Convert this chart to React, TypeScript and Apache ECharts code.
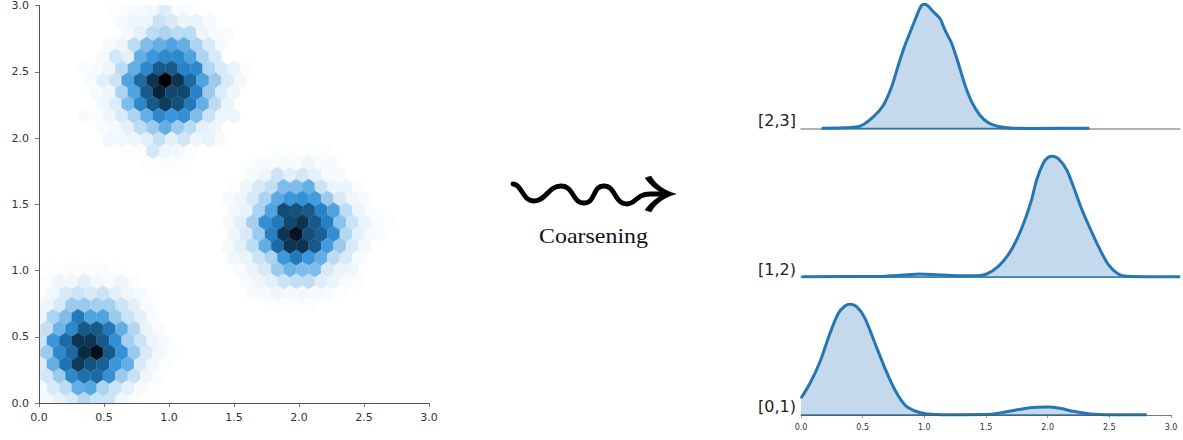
import React, { useEffect, useRef } from "react";
import * as echarts from "echarts";

// Hexbin lattice (data units)
const HEX_DX = 0.0959;
const HEX_DY = 0.0893;
const HEX_X0 = 0.0602;
const HEX_Y0 = 0.024;

// [row, first column, levels 0..10 left to right]
const clusterUpper: [number, number, number[]][] = [
  [33, 5, [0.2, 0.4, 0.5, 0.8, 1.8, 0.5, 0.3]],
  [32, 6, [0.6, 1, 1, 2.5, 2, 1.2, 1.2, 0.6]],
  [31, 6, [0.7, 1.5, 3, 3.5, 3, 3, 1, 0.5, 0.4]],
  [30, 5, [0.5, 1, 3, 4.5, 5, 5.5, 5, 3.5, 2, 0.6]],
  [29, 4, [0.6, 2.2, 1.5, 5, 6, 6.5, 6.5, 5.5, 3.5, 2]],
  [28, 3, [0.3, 0.4, 1, 3, 5, 6.5, 8, 8, 6.7, 6.5, 3.3, 2, 1.2, 0.3]],
  [27, 3, [0.4, 1.5, 2.5, 5.5, 7.5, 9, 10, 9, 7.5, 5.5, 4, 2, 0.8]],
  [26, 4, [0.6, 1, 3.5, 5.5, 8, 9.3, 8.5, 8.5, 6.7, 4, 1.8, 0.9]],
  [25, 4, [0.8, 1.8, 4.5, 6.5, 8, 8.8, 8.3, 7, 5, 3, 1.2]],
  [24, 3, [0.4, 0.3, 1, 2, 3.5, 5, 6.5, 6, 6.3, 4.5, 2.5, 1, 0.9]],
  [23, 4, [0.4, 0.7, 1.5, 3, 4, 5, 4, 3, 1.5, 1]],
  [22, 5, [0.8, 0.8, 1, 1.5, 2.7, 1.5, 2.3, 1, 1.3, 0.4]],
  [21, 6, [0.2, 0.3, 2.2, 1, 0.8, 0.3]],
  [20, 8, [0.2, 0.3, 0.3, 0.2]],
];
const clusterMiddle: [number, number, number[]][] = [
  [21, 18, [0.3, 0.3, 0.2, 0.2, 0.3]],
  [20, 17, [0.4, 0.4, 0.6, 0.5, 1, 0.4, 0.4]],
  [19, 16, [0.6, 1, 2.5, 1.5, 2.2, 1.5, 0.6, 0.5]],
  [18, 15, [0.2, 1, 2, 2.7, 4.5, 4.5, 5, 2.5, 1.2, 1.2, 0.3]],
  [17, 14, [0.4, 1, 2, 3.5, 5.2, 6, 6.2, 5.8, 4, 2, 1, 0.4]],
  [16, 15, [0.8, 1.3, 3.5, 5.5, 8.4, 8.2, 8, 6.7, 5.5, 3, 1.2, 0.3]],
  [15, 14, [0.4, 1.5, 3.7, 6.3, 7, 8.5, 9, 8, 6.8, 4.3, 2.5, 1.2, 0.4, 0.3]],
  [14, 15, [1, 2, 4, 6.8, 9, 9.6, 8.3, 7.8, 6.3, 3.2, 1.5, 0.5, 0.3]],
  [13, 14, [0.6, 1.5, 3, 5, 7.5, 9, 9, 8, 5.8, 4, 2, 0.8]],
  [12, 15, [0.8, 1.2, 2.5, 3.5, 6, 7, 6, 5, 3, 2, 0.6]],
  [11, 15, [0.5, 1.2, 2, 4, 4.8, 4.5, 4.5, 2, 1.2, 1]],
  [10, 16, [0.4, 1, 1.5, 2.5, 2.8, 3, 1.7, 1.2, 0.4, 0.3]],
  [9, 16, [0.4, 0.6, 1, 0.7, 0.8, 0.6, 0.5, 0.2]],
  [8, 18, [0.2, 0.3, 0.3, 0.2]],
];
const clusterLower: [number, number, number[]][] = [
  [11, 0, [0.2, 0.3, 0.3, 0.3, 0.4, 0.2]],
  [10, 0, [0.3, 1, 0.8, 1.5, 0.8, 0.4, 1, 0.3]],
  [9, -1, [0.3, 0.8, 2, 2.5, 2, 2.5, 1.5, 1, 0.6, 0.2]],
  [8, -1, [0.4, 1, 2, 4, 4, 3.7, 3.7, 2.5, 1.5, 0.5]],
  [7, -1, [1, 3.5, 4.5, 7, 5.5, 5.5, 4, 2.5, 1.5, 0.5]],
  [6, -1, [1, 2.8, 4.8, 6.5, 8, 8, 7, 5, 3.3, 1.2, 0.4]],
  [5, -1, [2.5, 6, 7.5, 9, 9, 8, 6.3, 3.7, 2.5, 1, 0.4]],
  [4, -1, [2, 4, 6.5, 7.5, 9.2, 9.7, 8, 6.2, 4, 2, 0.8, 0.3]],
  [3, -1, [1.8, 5, 7.2, 8.8, 8.2, 7.8, 6, 5, 2, 0.8, 0.2]],
  [2, -1, [1, 2.2, 4, 6.5, 7.3, 7.5, 6.2, 4, 2.6, 1, 0.3]],
  [1, -1, [0.6, 2, 3, 5, 5.3, 3.5, 2.5, 1.5, 0.5, 0.2]],
  [0, -1, [0.2, 0.7, 1.3, 2, 3.2, 2.5, 2.5, 0.8, 0.3]],
];

const levelColors = [
  "#ffffff", "#eef6fc", "#d8eaf8", "#bcdcf3", "#9bcaed", "#64aee4",
  "#3a97dc", "#2279bb", "#175a8a", "#0d3552", "#000000",
];

// KDE curves: [x, density]
const kde23: [number, number][] = [
  [0.168, 0.003], [0.343, 0.007], [0.478, 0.023], [0.586, 0.117], [0.668, 0.233], [0.735, 0.417],
  [0.789, 0.633], [0.843, 0.833], [0.897, 1.0], [0.951, 1.167], [0.978, 1.233], [1.005, 1.243],
  [1.032, 1.223], [1.073, 1.167], [1.127, 1.1], [1.168, 0.983], [1.222, 0.85], [1.276, 0.65],
  [1.33, 0.433], [1.384, 0.267], [1.451, 0.133], [1.519, 0.057], [1.6, 0.02], [1.72, 0.003],
  [1.884, 0.001], [2.338, 0.002],
];
const kde12: [number, number][] = [
  [0.005, 0.003], [0.668, 0.007], [0.83, 0.02], [0.965, 0.03], [1.1, 0.023], [1.262, 0.013],
  [1.424, 0.013], [1.505, 0.03], [1.6, 0.107], [1.681, 0.223], [1.749, 0.373], [1.816, 0.573],
  [1.87, 0.773], [1.911, 0.973], [1.965, 1.14], [2.005, 1.197], [2.038, 1.207], [2.086, 1.183],
  [2.154, 1.073], [2.208, 0.907], [2.262, 0.723], [2.33, 0.523], [2.411, 0.307], [2.492, 0.123],
  [2.573, 0.03], [2.641, 0.007], [2.83, 0.003], [3.073, 0.002],
];
const kde01: [number, number][] = [
  [0, 0.167], [0.073, 0.317], [0.154, 0.533], [0.235, 0.817], [0.303, 1.017], [0.357, 1.09],
  [0.397, 1.107], [0.451, 1.083], [0.519, 0.967], [0.6, 0.717], [0.681, 0.467], [0.762, 0.25],
  [0.843, 0.1], [0.924, 0.04], [1.019, 0.01], [1.208, 0.003], [1.532, 0.007], [1.668, 0.033],
  [1.803, 0.063], [1.911, 0.077], [2.005, 0.08], [2.1, 0.067], [2.208, 0.037], [2.343, 0.01],
  [2.532, 0.003], [2.803, 0.003],
];
const ridgeLabels = ["[2,3]", "[1,2)", "[0,1)"];
const WAVE_D =
  "M513 184 C522 184 522 201 534 201 C546 201 548 186 561 186 C574 186 572 203 584 203 C596 203 592 186 604 186 C616 186 614 204 627 204 C636 204 636 194 650 194 L668 194";
const HEAD_D =
  "M645 178 L651 176 C656 185 665 191 676 194 C665 197 656 203 651 212 L645 210 C650 203 656 198 664 194 C656 190 650 185 645 178 Z";

function hexColor(level: number): string {
  const i = Math.min(Math.floor(level), 9);
  const t = level - i;
  const a = levelColors[i];
  const b = levelColors[i + 1];
  const p = (s: string, k: number) => parseInt(s.slice(k, k + 2), 16);
  const mix = (k: number) => Math.round(p(a, k) + (p(b, k) - p(a, k)) * t);
  return `rgb(${mix(1)},${mix(3)},${mix(5)})`;
}

function hexData() {
  const out: number[][] = [];
  for (const cluster of [clusterUpper, clusterMiddle, clusterLower]) {
    for (const [row, first, levels] of cluster) {
      levels.forEach((lv, i) => {
        const c = first + i + (row % 2 ? 0.5 : 0);
        out.push([HEX_X0 + c * HEX_DX, HEX_Y0 + row * HEX_DY, lv]);
      });
    }
  }
  return out;
}

const HEX_SHAPE = [[0, 2 / 3], [0.5, 1 / 3], [0.5, -1 / 3], [0, -2 / 3], [-0.5, -1 / 3], [-0.5, 1 / 3]];

export default function App() {
  const ref = useRef<HTMLDivElement>(null);
  useEffect(() => {
    document.body.style.margin = "0";
    echarts.graphic.registerShape("coarsenWave", echarts.graphic.extendPath(WAVE_D, {}) as any);
    echarts.graphic.registerShape("coarsenHead", echarts.graphic.extendPath(HEAD_D, {}) as any);
    const chart = echarts.init(ref.current!, undefined, { renderer: "svg" });
    const font = "DejaVu Sans";
    const mainAxis = (gridIndex: number, margin: number) => ({
      type: "value" as const, gridIndex, min: 0, max: 3, interval: 0.5, z: 10,
      splitLine: { show: false },
      axisLine: { show: true, lineStyle: { color: "#555", width: 1 } },
      axisTick: { show: true, length: 4, lineStyle: { color: "#555", width: 0.8 } },
      axisLabel: { color: "#333", fontFamily: font, fontSize: 11, margin, showMinLabel: true, showMaxLabel: true, formatter: (v: number) => v.toFixed(1) },
    });
    const ridgeGrids = [
      { left: 801, top: 0, width: 379, height: 128.5 },
      { left: 801, top: 147, width: 379, height: 130 },
      { left: 801, top: 295, width: 370, height: 120 },
    ];
    const ridgeCurves = [kde23, kde12, kde01];
    const ridgeMax = [3.073, 3.073, 3];
    const ridgeSeries: any[] = [];
    ridgeCurves.forEach((curve, i) => {
      ridgeSeries.push({
        type: "line", xAxisIndex: i + 1, yAxisIndex: i + 1, data: curve, smooth: 0.25,
        showSymbol: false, clip: false, lineStyle: { color: "#2577b3", width: 3 },
        areaStyle: { color: "#c4d9ec", opacity: 1 }, z: 3,
      });
      ridgeSeries.push({
        type: "line", xAxisIndex: i + 1, yAxisIndex: i + 1,
        data: [[curve[0][0], 0], [curve[curve.length - 1][0], 0]],
        showSymbol: false, clip: false, lineStyle: { color: "#2577b3", width: 1.6 }, z: 4,
      });
    });
    chart.setOption({
      animation: false,
      backgroundColor: "#fff",
      grid: [{ left: 39, top: 4, width: 390, height: 399 }, ...ridgeGrids],
      xAxis: [
        mainAxis(0, 9),
        ...[0, 1].map((k) => ({
          type: "value", gridIndex: k + 1, min: 0, max: ridgeMax[k],
          splitLine: { show: false }, axisTick: { show: false }, axisLabel: { show: false },
          axisLine: { show: true, lineStyle: { color: "#999", width: 1.5 } },
        })),
        {
          type: "value", gridIndex: 3, min: 0, max: 3, interval: 0.5, z: 10,
          splitLine: { show: false },
          axisLine: { show: true, lineStyle: { color: "#555", width: 0.8 } },
          axisTick: { show: true, length: 3, lineStyle: { color: "#555", width: 0.6 } },
          axisLabel: { color: "#333", fontFamily: font, fontSize: 8, margin: 8, showMinLabel: true, showMaxLabel: true, formatter: (v: number) => v.toFixed(1) },
        },
      ],
      yAxis: [
        mainAxis(0, 10),
        ...ridgeGrids.map((g, k) => ({
          type: "value", gridIndex: k + 1, min: 0, max: g.height / 100, show: false,
        })),
      ],
      series: [
        {
          type: "custom", xAxisIndex: 0, yAxisIndex: 0, clip: true, data: hexData(),
          encode: { x: 0, y: 1 },
          renderItem: (_: any, api: any) => {
            const cx = api.value(0);
            const cy = api.value(1);
            const col = hexColor(api.value(2));
            return {
              type: "polygon",
              shape: { points: HEX_SHAPE.map(([a, b]) => api.coord([cx + a * HEX_DX, cy + b * HEX_DY])) },
              style: { fill: col, stroke: col, lineWidth: 0.3 },
            };
          },
        },
        ...ridgeSeries,
      ],
      graphic: [
        { type: "coarsenWave", x: 0, y: 0, style: { fill: "none", stroke: "#000", lineWidth: 4.8, lineCap: "round", lineJoin: "round" } },
        { type: "coarsenHead", x: 0, y: 0, style: { fill: "#000", stroke: "#000", lineWidth: 0.5 } },
        { type: "text", x: 593.5, y: 236, scaleX: 1.14, style: { text: "Coarsening", fill: "#111", font: '21px "Liberation Serif"', textAlign: "center", textVerticalAlign: "middle" } },
        ...ridgeLabels.map((t, i) => ({
          type: "text", x: 796, y: [120, 269, 406][i],
          style: { text: t, fill: "#222", font: '16px "DejaVu Sans"', textAlign: "right", textVerticalAlign: "middle" },
        })),
      ],
    });
    return () => chart.dispose();
  }, []);
  return <div ref={ref} style={{ width: 1183, height: 440 }} />;
}
